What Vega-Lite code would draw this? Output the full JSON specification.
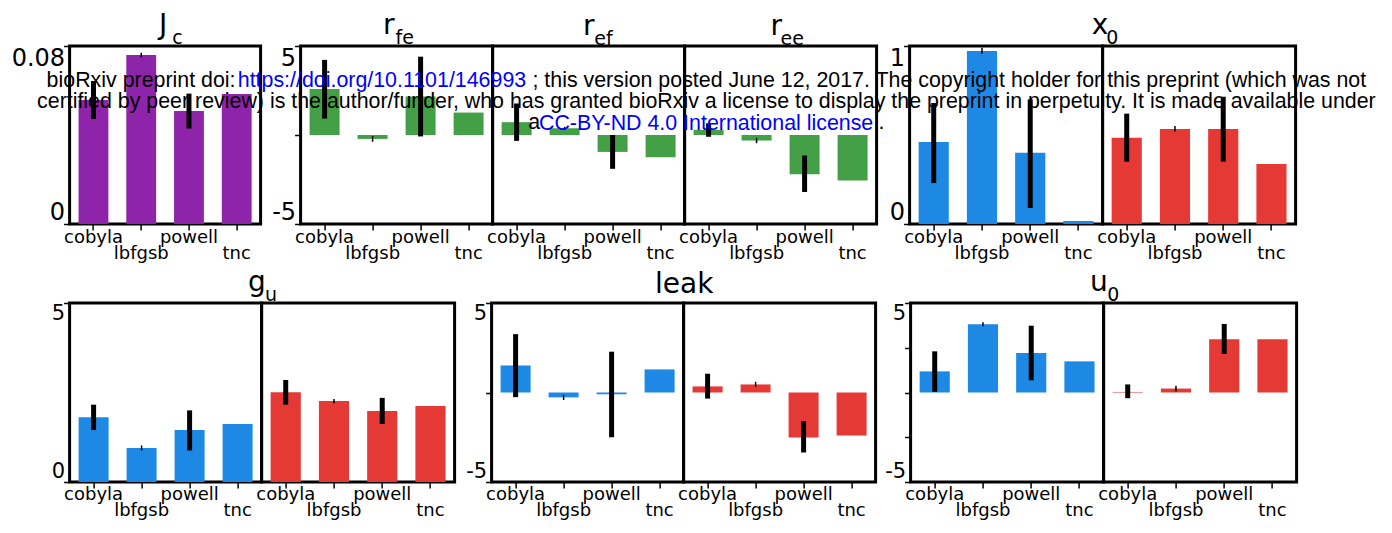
{
  "$schema": "https://vega.github.io/schema/vega-lite/v6.json",
  "background": "white",
  "padding": {"left": 9.6, "top": 10, "right": 5, "bottom": 5},
  "datasets": {
    "d": [
      {"p": "Jc", "g": "a", "m": "cobyla", "v": 0.0557, "lo": 0.0472, "hi": 0.0643},
      {"p": "Jc", "g": "a", "m": "lbfgsb", "v": 0.076, "lo": 0.0748, "hi": 0.077},
      {"p": "Jc", "g": "a", "m": "powell", "v": 0.0508, "lo": 0.0429, "hi": 0.0586},
      {"p": "Jc", "g": "a", "m": "tnc", "v": 0.0584},
      {"p": "rfe", "g": "a", "m": "cobyla", "v": 2.58, "lo": 0.92, "hi": 4.22},
      {"p": "rfe", "g": "a", "m": "lbfgsb", "v": -0.22, "lo": -0.38, "hi": -0.06},
      {"p": "rfe", "g": "a", "m": "powell", "v": 2.16, "lo": -0.08, "hi": 4.4},
      {"p": "rfe", "g": "a", "m": "tnc", "v": 1.26},
      {"p": "ref", "g": "a", "m": "cobyla", "v": 0.72, "lo": -0.33, "hi": 1.77},
      {"p": "ref", "g": "a", "m": "lbfgsb", "v": 0.38, "lo": 0.3, "hi": 0.46},
      {"p": "ref", "g": "a", "m": "powell", "v": -0.95, "lo": -1.9, "hi": 0.0},
      {"p": "ref", "g": "a", "m": "tnc", "v": -1.25},
      {"p": "ree", "g": "a", "m": "cobyla", "v": 0.29, "lo": -0.1, "hi": 0.66},
      {"p": "ree", "g": "a", "m": "lbfgsb", "v": -0.31, "lo": -0.46, "hi": -0.16},
      {"p": "ree", "g": "a", "m": "powell", "v": -2.2, "lo": -3.2, "hi": -1.15},
      {"p": "ree", "g": "a", "m": "tnc", "v": -2.56},
      {"p": "x0", "g": "a", "m": "cobyla", "v": 0.46, "lo": 0.23, "hi": 0.68},
      {"p": "x0", "g": "a", "m": "lbfgsb", "v": 0.972, "lo": 0.955, "hi": 0.99},
      {"p": "x0", "g": "a", "m": "powell", "v": 0.4, "lo": 0.09, "hi": 0.7},
      {"p": "x0", "g": "a", "m": "tnc", "v": 0.017},
      {"p": "x0", "g": "b", "m": "cobyla", "v": 0.485, "lo": 0.35, "hi": 0.62},
      {"p": "x0", "g": "b", "m": "lbfgsb", "v": 0.534, "lo": 0.52, "hi": 0.55},
      {"p": "x0", "g": "b", "m": "powell", "v": 0.534, "lo": 0.35, "hi": 0.715},
      {"p": "x0", "g": "b", "m": "tnc", "v": 0.337},
      {"p": "gu", "g": "a", "m": "cobyla", "v": 1.81, "lo": 1.45, "hi": 2.16},
      {"p": "gu", "g": "a", "m": "lbfgsb", "v": 0.95, "lo": 0.88, "hi": 1.02},
      {"p": "gu", "g": "a", "m": "powell", "v": 1.45, "lo": 0.88, "hi": 2.0},
      {"p": "gu", "g": "a", "m": "tnc", "v": 1.62},
      {"p": "gu", "g": "b", "m": "cobyla", "v": 2.51, "lo": 2.16, "hi": 2.85},
      {"p": "gu", "g": "b", "m": "lbfgsb", "v": 2.26, "lo": 2.2, "hi": 2.32},
      {"p": "gu", "g": "b", "m": "powell", "v": 1.98, "lo": 1.62, "hi": 2.35},
      {"p": "gu", "g": "b", "m": "tnc", "v": 2.12},
      {"p": "leak", "g": "a", "m": "cobyla", "v": 1.51, "lo": -0.26, "hi": 3.26},
      {"p": "leak", "g": "a", "m": "lbfgsb", "v": -0.27, "lo": -0.42, "hi": -0.12},
      {"p": "leak", "g": "a", "m": "powell", "v": -0.1, "lo": -2.5, "hi": 2.28},
      {"p": "leak", "g": "a", "m": "tnc", "v": 1.29},
      {"p": "leak", "g": "b", "m": "cobyla", "v": 0.34, "lo": -0.34, "hi": 1.05},
      {"p": "leak", "g": "b", "m": "lbfgsb", "v": 0.45, "lo": 0.32, "hi": 0.6},
      {"p": "leak", "g": "b", "m": "powell", "v": -2.52, "lo": -3.35, "hi": -1.6},
      {"p": "leak", "g": "b", "m": "tnc", "v": -2.4},
      {"p": "u0", "g": "a", "m": "cobyla", "v": 1.18, "lo": 0.04, "hi": 2.3},
      {"p": "u0", "g": "a", "m": "lbfgsb", "v": 3.81, "lo": 3.7, "hi": 3.92},
      {"p": "u0", "g": "a", "m": "powell", "v": 2.2, "lo": 0.68, "hi": 3.73},
      {"p": "u0", "g": "a", "m": "tnc", "v": 1.74},
      {"p": "u0", "g": "b", "m": "cobyla", "v": 0.03, "lo": -0.32, "hi": 0.45},
      {"p": "u0", "g": "b", "m": "lbfgsb", "v": 0.22, "lo": 0.05, "hi": 0.38},
      {"p": "u0", "g": "b", "m": "powell", "v": 2.98, "lo": 2.15, "hi": 3.83},
      {"p": "u0", "g": "b", "m": "tnc", "v": 2.98}
    ]
  },
  "title": {
    "text": [
      "bioRxiv preprint doi: \u00a0\u00a0\u00a0\u00a0\u00a0\u00a0\u00a0\u00a0\u00a0\u00a0\u00a0\u00a0\u00a0\u00a0\u00a0\u00a0\u00a0\u00a0\u00a0\u00a0\u00a0\u00a0\u00a0\u00a0\u00a0\u00a0\u00a0\u00a0\u00a0\u00a0\u00a0\u00a0\u00a0\u00a0\u00a0\u00a0\u00a0\u00a0\u00a0\u00a0\u00a0\u00a0\u00a0\u00a0\u00a0\u00a0\u00a0\u00a0\u00a0; this version posted June 12, 2017. The copyright holder for this preprint (which was not",
      "certified by peer review) is the author/funder, who has granted bioRxiv a license to display the preprint in perpetuity. It is made available under",
      "a\u00a0\u00a0\u00a0\u00a0\u00a0\u00a0\u00a0\u00a0\u00a0\u00a0\u00a0\u00a0\u00a0\u00a0\u00a0\u00a0\u00a0\u00a0\u00a0\u00a0\u00a0\u00a0\u00a0\u00a0\u00a0\u00a0\u00a0\u00a0\u00a0\u00a0\u00a0\u00a0\u00a0\u00a0\u00a0\u00a0\u00a0\u00a0\u00a0\u00a0\u00a0\u00a0\u00a0\u00a0\u00a0\u00a0\u00a0\u00a0\u00a0\u00a0\u00a0\u00a0\u00a0\u00a0\u00a0\u00a0\u00a0."
    ],
    "font": "Liberation Sans", "fontSize": 21.4, "lineHeight": 21, "anchor": "middle", "align": "center",
    "dx": 52.5, "dy": 123, "offset": 0, "color": "black"
  },
  "spacing": 3,
  "vconcat": [
    {
      "spacing": 0,
      "title": {"text": "https://doi.org/10.1101/146993", "font": "Liberation Sans", "fontSize": 21.4, "color": "#0000FF", "anchor": "start", "align": "left", "dx": 228.1, "dy": 81, "offset": 0},
      "hconcat": [
        {
          "width": 191, "height": 178,
          "title": {"text": "J", "subtitle": "c", "align": "left", "dx": 7.25, "encoding": {"dx": {"value": -6}}},
          "data": {"name": "d"},
          "transform": [{"filter": "datum.p == 'Jc' && datum.g == 'a'"}],
          "encoding": {"x": {"field": "m", "type": "nominal", "sort": ["cobyla", "lbfgsb", "powell", "tnc"], "title": null, "scale": {"paddingInner": 0.375, "paddingOuter": 0.1875}}},
          "layer": [
            {"mark": {"type": "bar", "color": "#8E24AA"}, "encoding": {"y": {"field": "v", "type": "quantitative", "title": null, "scale": {"domain": [0, 0.08], "nice": false}, "axis": {"values": [0, 0.08], "format": "~g", "labelFontSize": 24}}}},
            {"transform": [{"filter": "isValid(datum.lo)"}], "mark": {"type": "rule", "color": "black"}, "encoding": {"y": {"field": "lo", "type": "quantitative", "title": null}, "y2": {"field": "hi"}, "strokeWidth": {"condition": {"test": "datum.m == 'lbfgsb'", "value": 1.5}, "value": 5}}}
          ]
        },
        {
          "bounds": "flush", "spacing": 0,
          "title": {"text": "CC-BY-ND 4.0 International license", "font": "Liberation Sans", "fontSize": 21.4, "color": "#0000FF", "anchor": "start", "align": "left", "dx": 276.4, "dy": 124, "offset": 0},
          "hconcat": [
            {
              "width": 192, "height": 178,
              "title": {"text": "r", "subtitle": "fe", "align": "left", "dx": -1.1, "encoding": {"dx": {"value": -13.5}}},
              "data": {"name": "d"},
              "transform": [{"filter": "datum.p == 'rfe'"}],
              "encoding": {"x": {"field": "m", "type": "nominal", "sort": ["cobyla", "lbfgsb", "powell", "tnc"], "title": null, "scale": {"paddingInner": 0.375, "paddingOuter": 0.1875}}},
              "layer": [
                {"mark": {"type": "bar", "color": "#43A047"}, "encoding": {"y": {"field": "v", "type": "quantitative", "title": null, "scale": {"domain": [-5, 5], "nice": false}, "axis": {"values": [-5, 0, 5], "format": "~g", "labelExpr": "datum.value == 0 ? '' : replace(datum.label, '\u2212', '-')", "labelFontSize": 24, "minExtent": 36.5, "maxExtent": 36.5}}}},
                {"transform": [{"filter": "isValid(datum.lo)"}], "mark": {"type": "rule", "color": "black"}, "encoding": {"y": {"field": "lo", "type": "quantitative", "title": null}, "y2": {"field": "hi"}, "strokeWidth": {"condition": {"test": "datum.m == 'lbfgsb'", "value": 1.5}, "value": 5}}}
              ]
            },
            {
              "width": 192, "height": 178,
              "title": {"text": "r", "subtitle": "ef", "align": "left", "dx": 5.6, "encoding": {"dx": {"value": -5.5}}},
              "data": {"name": "d"},
              "transform": [{"filter": "datum.p == 'ref'"}],
              "encoding": {"x": {"field": "m", "type": "nominal", "sort": ["cobyla", "lbfgsb", "powell", "tnc"], "title": null, "scale": {"paddingInner": 0.375, "paddingOuter": 0.1875}}},
              "layer": [
                {"mark": {"type": "bar", "color": "#43A047"}, "encoding": {"y": {"field": "v", "type": "quantitative", "title": null, "scale": {"domain": [-5, 5], "nice": false}, "axis": null}}},
                {"transform": [{"filter": "isValid(datum.lo)"}], "mark": {"type": "rule", "color": "black"}, "encoding": {"y": {"field": "lo", "type": "quantitative", "title": null, "axis": null}, "y2": {"field": "hi"}, "strokeWidth": {"condition": {"test": "datum.m == 'lbfgsb'", "value": 1.5}, "value": 5}}}
              ]
            },
            {
              "width": 192, "height": 178,
              "title": {"text": "r", "subtitle": "ee", "align": "left", "dx": -0.1, "encoding": {"dx": {"value": -10.2}}},
              "data": {"name": "d"},
              "transform": [{"filter": "datum.p == 'ree'"}],
              "encoding": {"x": {"field": "m", "type": "nominal", "sort": ["cobyla", "lbfgsb", "powell", "tnc"], "title": null, "scale": {"paddingInner": 0.375, "paddingOuter": 0.1875}}},
              "layer": [
                {"mark": {"type": "bar", "color": "#43A047"}, "encoding": {"y": {"field": "v", "type": "quantitative", "title": null, "scale": {"domain": [-5, 5], "nice": false}, "axis": null}}},
                {"transform": [{"filter": "isValid(datum.lo)"}], "mark": {"type": "rule", "color": "black"}, "encoding": {"y": {"field": "lo", "type": "quantitative", "title": null, "axis": null}, "y2": {"field": "hi"}, "strokeWidth": {"condition": {"test": "datum.m == 'lbfgsb'", "value": 1.5}, "value": 5}}}
              ]
            }
          ]
        },
        {
          "bounds": "flush", "spacing": 0,
          "hconcat": [
            {
              "width": 193, "height": 178,
              "title": {"text": "x", "subtitle": "0", "anchor": "end", "align": "left", "dx": 3.7, "encoding": {"dx": {"value": -10.8}}},
              "data": {"name": "d"},
              "transform": [{"filter": "datum.p == 'x0' && datum.g == 'a'"}],
              "encoding": {"x": {"field": "m", "type": "nominal", "sort": ["cobyla", "lbfgsb", "powell", "tnc"], "title": null, "scale": {"paddingInner": 0.375, "paddingOuter": 0.1875}}},
              "layer": [
                {"mark": {"type": "bar", "color": "#1E88E5"}, "encoding": {"y": {"field": "v", "type": "quantitative", "title": null, "scale": {"domain": [0, 1], "nice": false}, "axis": {"values": [0, 1], "format": "~g", "labelFontSize": 24, "minExtent": 29.5, "maxExtent": 29.5}}}},
                {"transform": [{"filter": "isValid(datum.lo)"}], "mark": {"type": "rule", "color": "black"}, "encoding": {"y": {"field": "lo", "type": "quantitative", "title": null}, "y2": {"field": "hi"}, "strokeWidth": {"condition": {"test": "datum.m == 'lbfgsb'", "value": 1.5}, "value": 5}}}
              ]
            },
            {
              "width": 193, "height": 178,
              "data": {"name": "d"},
              "transform": [{"filter": "datum.p == 'x0' && datum.g == 'b'"}],
              "encoding": {"x": {"field": "m", "type": "nominal", "sort": ["cobyla", "lbfgsb", "powell", "tnc"], "title": null, "scale": {"paddingInner": 0.375, "paddingOuter": 0.1875}}},
              "layer": [
                {"mark": {"type": "bar", "color": "#E53935"}, "encoding": {"y": {"field": "v", "type": "quantitative", "title": null, "scale": {"domain": [0, 1], "nice": false}, "axis": null}}},
                {"transform": [{"filter": "isValid(datum.lo)"}], "mark": {"type": "rule", "color": "black"}, "encoding": {"y": {"field": "lo", "type": "quantitative", "title": null, "axis": null}, "y2": {"field": "hi"}, "strokeWidth": {"condition": {"test": "datum.m == 'lbfgsb'", "value": 1.5}, "value": 5}}}
              ]
            }
          ]
        }
      ]
    },
    {
      "spacing": 0,
      "hconcat": [
        {
          "bounds": "flush", "spacing": 0,
          "hconcat": [
            {
              "width": 192, "height": 179,
              "title": {"text": "g", "subtitle": "u", "anchor": "end", "align": "left", "dx": 3.3, "encoding": {"dx": {"value": -13.7}}},
              "data": {"name": "d"},
              "transform": [{"filter": "datum.p == 'gu' && datum.g == 'a'"}],
              "encoding": {"x": {"field": "m", "type": "nominal", "sort": ["cobyla", "lbfgsb", "powell", "tnc"], "title": null, "scale": {"paddingInner": 0.375, "paddingOuter": 0.1875}}},
              "layer": [
                {"mark": {"type": "bar", "color": "#1E88E5"}, "encoding": {"y": {"field": "v", "type": "quantitative", "title": null, "scale": {"domain": [0, 5], "nice": false}, "axis": {"values": [0, 5], "format": "~g", "labelFontSize": 21}}}},
                {"transform": [{"filter": "isValid(datum.lo)"}], "mark": {"type": "rule", "color": "black"}, "encoding": {"y": {"field": "lo", "type": "quantitative", "title": null}, "y2": {"field": "hi"}, "strokeWidth": {"condition": {"test": "datum.m == 'lbfgsb'", "value": 1.5}, "value": 5}}}
              ]
            },
            {
              "width": 193, "height": 179,
              "data": {"name": "d"},
              "transform": [{"filter": "datum.p == 'gu' && datum.g == 'b'"}],
              "encoding": {"x": {"field": "m", "type": "nominal", "sort": ["cobyla", "lbfgsb", "powell", "tnc"], "title": null, "scale": {"paddingInner": 0.375, "paddingOuter": 0.1875}}},
              "layer": [
                {"mark": {"type": "bar", "color": "#E53935"}, "encoding": {"y": {"field": "v", "type": "quantitative", "title": null, "scale": {"domain": [0, 5], "nice": false}, "axis": null}}},
                {"transform": [{"filter": "isValid(datum.lo)"}], "mark": {"type": "rule", "color": "black"}, "encoding": {"y": {"field": "lo", "type": "quantitative", "title": null, "axis": null}, "y2": {"field": "hi"}, "strokeWidth": {"condition": {"test": "datum.m == 'lbfgsb'", "value": 1.5}, "value": 5}}}
              ]
            }
          ]
        },
        {
          "bounds": "flush", "spacing": 0,
          "hconcat": [
            {
              "width": 192, "height": 179,
              "title": {"text": "leak", "anchor": "end", "align": "left", "dx": -28.5, "offset": 3},
              "data": {"name": "d"},
              "transform": [{"filter": "datum.p == 'leak' && datum.g == 'a'"}],
              "encoding": {"x": {"field": "m", "type": "nominal", "sort": ["cobyla", "lbfgsb", "powell", "tnc"], "title": null, "scale": {"paddingInner": 0.375, "paddingOuter": 0.1875}}},
              "layer": [
                {"mark": {"type": "bar", "color": "#1E88E5"}, "encoding": {"y": {"field": "v", "type": "quantitative", "title": null, "scale": {"domain": [-5, 5], "nice": false}, "axis": {"values": [-5, 0, 5], "format": "~g", "labelExpr": "datum.value == 0 ? '' : replace(datum.label, '\u2212', '-')", "labelFontSize": 21, "minExtent": 33.5, "maxExtent": 33.5}}}},
                {"transform": [{"filter": "isValid(datum.lo)"}], "mark": {"type": "rule", "color": "black"}, "encoding": {"y": {"field": "lo", "type": "quantitative", "title": null}, "y2": {"field": "hi"}, "strokeWidth": {"condition": {"test": "datum.m == 'lbfgsb'", "value": 1.5}, "value": 5}}}
              ]
            },
            {
              "width": 192, "height": 179,
              "data": {"name": "d"},
              "transform": [{"filter": "datum.p == 'leak' && datum.g == 'b'"}],
              "encoding": {"x": {"field": "m", "type": "nominal", "sort": ["cobyla", "lbfgsb", "powell", "tnc"], "title": null, "scale": {"paddingInner": 0.375, "paddingOuter": 0.1875}}},
              "layer": [
                {"mark": {"type": "bar", "color": "#E53935"}, "encoding": {"y": {"field": "v", "type": "quantitative", "title": null, "scale": {"domain": [-5, 5], "nice": false}, "axis": null}}},
                {"transform": [{"filter": "isValid(datum.lo)"}], "mark": {"type": "rule", "color": "black"}, "encoding": {"y": {"field": "lo", "type": "quantitative", "title": null, "axis": null}, "y2": {"field": "hi"}, "strokeWidth": {"condition": {"test": "datum.m == 'lbfgsb'", "value": 1.5}, "value": 5}}}
              ]
            }
          ]
        },
        {
          "bounds": "flush", "spacing": 0,
          "hconcat": [
            {
              "width": 193, "height": 179,
              "title": {"text": "u", "subtitle": "0", "anchor": "end", "align": "left", "dx": 3.7, "encoding": {"dx": {"value": -13.5}}},
              "data": {"name": "d"},
              "transform": [{"filter": "datum.p == 'u0' && datum.g == 'a'"}],
              "encoding": {"x": {"field": "m", "type": "nominal", "sort": ["cobyla", "lbfgsb", "powell", "tnc"], "title": null, "scale": {"paddingInner": 0.375, "paddingOuter": 0.1875}}},
              "layer": [
                {"mark": {"type": "bar", "color": "#1E88E5"}, "encoding": {"y": {"field": "v", "type": "quantitative", "title": null, "scale": {"domain": [-5, 5], "nice": false}, "axis": {"values": [-5, -2.5, 0, 2.5, 5], "format": "~g", "labelExpr": "abs(datum.value) == 5 ? replace(datum.label, '\u2212', '-') : ''", "labelFontSize": 21, "minExtent": 31.5, "maxExtent": 31.5}}}},
                {"transform": [{"filter": "isValid(datum.lo)"}], "mark": {"type": "rule", "color": "black"}, "encoding": {"y": {"field": "lo", "type": "quantitative", "title": null}, "y2": {"field": "hi"}, "strokeWidth": {"condition": {"test": "datum.m == 'lbfgsb'", "value": 1.5}, "value": 5}}}
              ]
            },
            {
              "width": 193, "height": 179,
              "data": {"name": "d"},
              "transform": [{"filter": "datum.p == 'u0' && datum.g == 'b'"}],
              "encoding": {"x": {"field": "m", "type": "nominal", "sort": ["cobyla", "lbfgsb", "powell", "tnc"], "title": null, "scale": {"paddingInner": 0.375, "paddingOuter": 0.1875}}},
              "layer": [
                {"mark": {"type": "bar", "color": "#E53935"}, "encoding": {"y": {"field": "v", "type": "quantitative", "title": null, "scale": {"domain": [-5, 5], "nice": false}, "axis": null}}},
                {"transform": [{"filter": "isValid(datum.lo)"}], "mark": {"type": "rule", "color": "black"}, "encoding": {"y": {"field": "lo", "type": "quantitative", "title": null, "axis": null}, "y2": {"field": "hi"}, "strokeWidth": {"condition": {"test": "datum.m == 'lbfgsb'", "value": 1.5}, "value": 5}}}
              ]
            }
          ]
        }
      ]
    }
  ],
  "config": {
    "font": "DejaVu Sans",
    "view": {"stroke": "black", "strokeWidth": 3},
    "title": {"font": "DejaVu Sans", "subtitleFont": "DejaVu Sans", "fontSize": 28, "subtitleFontSize": 19, "fontWeight": "normal", "color": "black", "subtitleColor": "black", "anchor": "middle", "offset": -3, "subtitlePadding": -11},
    "axis": {"domain": false, "grid": false, "labelColor": "black", "labelFont": "DejaVu Sans", "tickColor": "black", "tickWidth": 1.5, "tickSize": 6},
    "axisX": {"labelFontSize": 18, "labelAngle": 0, "labelPadding": {"condition": {"test": "datum.value == 'lbfgsb' || datum.value == 'tnc'", "value": 14}, "value": -2}},
    "axisY": {"labelPadding": -1, "labelFlush": true}
  }
}
